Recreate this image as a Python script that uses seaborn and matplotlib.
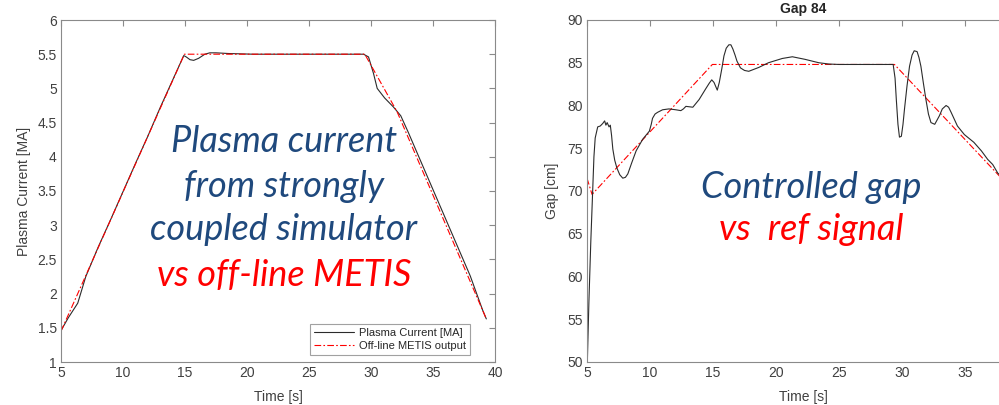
import seaborn as sns
import numpy as np
import matplotlib.pyplot as plt
from matplotlib.ticker import FormatStrFormatter, MultipleLocator

# --- left panel: plasma current [MA] vs time [s]
t_ip = [5.0, 5.6, 6.35, 7.0, 8.0, 9.0, 10.0, 11.0, 12.0, 13.0, 14.0, 14.9,
        15.1, 15.4, 15.7, 16.1, 16.6, 17.0, 17.5, 18.5, 19.5, 20.5, 25.0,
        29.4, 29.8, 30.2, 30.5, 31.1, 31.8, 32.4, 33.0, 34.0, 35.0, 36.0,
        37.0, 38.0, 39.0, 39.3]
ip = [1.46, 1.65, 1.86, 2.25, 2.68, 3.08, 3.49, 3.9, 4.3, 4.72, 5.12, 5.48,
      5.46, 5.42, 5.41, 5.44, 5.5, 5.52, 5.52, 5.51, 5.505, 5.5, 5.5,
      5.5, 5.46, 5.22, 5.0, 4.86, 4.73, 4.6, 4.36, 3.94, 3.52, 3.1,
      2.68, 2.26, 1.76, 1.63]
t_metis = [5.0, 14.95, 29.5, 32.1, 39.3]
ip_metis = [1.45, 5.5, 5.5, 4.66, 1.63]

# --- right panel: gap 84 [cm] vs time [s]
t_gap = [5.0, 5.03, 5.15, 5.3, 5.45, 5.55, 5.65, 5.85, 6.05, 6.25, 6.4, 6.5,
         6.6, 6.75, 6.85, 6.95, 7.05, 7.2, 7.37, 7.6, 7.84, 8.05, 8.24,
         8.55, 8.9, 9.42, 9.95, 10.1, 10.2, 10.4, 10.6, 11.0, 11.5, 12.05,
         12.45, 12.65, 12.85, 13.4, 13.9, 14.4, 14.7, 14.9, 15.08, 15.34,
         15.5, 15.7, 15.87, 16.05, 16.26, 16.42, 16.58, 16.75, 16.9, 17.18,
         17.5, 17.84, 18.63, 19.4, 20.5, 21.3, 22.3, 23.4, 24.2, 25.0,
         29.3, 29.45, 29.55, 29.68, 29.8, 29.95, 30.08, 30.2, 30.4, 30.6,
         30.8, 30.97, 31.2, 31.35, 31.5, 31.7, 31.9, 32.1, 32.3, 32.6,
         32.97, 33.2, 33.5, 33.7, 33.9, 34.4, 34.95, 35.7, 36.3, 36.8,
         37.2, 37.6, 38.4, 39.2, 40.0]
gap = [51.5, 50.2, 57.0, 64.0, 70.0, 74.0, 76.2, 77.5, 77.6, 77.9, 78.2, 77.7,
       78.0, 77.5, 77.7, 76.5, 74.9, 73.6, 72.7, 71.9, 71.5, 71.6, 72.0,
       73.3, 74.7, 76.05, 77.0, 77.8, 78.5, 79.0, 79.2, 79.5, 79.6, 79.5,
       79.4, 79.6, 79.9, 79.8, 80.7, 81.9, 82.6, 83.0, 82.7, 81.8,
       82.7, 84.3, 85.8, 86.7, 87.1, 87.1, 86.6, 85.9, 85.2, 84.4,
       84.1, 84.0, 84.45, 85.0, 85.5, 85.7, 85.4, 85.0, 84.85, 84.8,
       84.8, 83.2, 80.7, 77.8, 76.3, 76.4, 77.8, 79.6, 82.3, 84.6,
       85.9, 86.4, 86.3, 85.6, 84.6, 82.6, 80.7, 79.0, 78.0, 77.8,
       78.8, 79.6, 80.0, 79.8, 79.2, 77.6, 76.6, 75.7, 74.7, 73.7,
       73.1, 72.1, 71.0, 69.8, 68.6]
t_ref = [5.0, 5.4, 14.95, 29.4, 40.0]
gap_ref = [71.5, 69.6, 84.8, 84.8, 68.2]

sns.set_style("white")
plt.rcParams['font.family'] = ['Liberation Sans', 'DejaVu Sans']
plt.rcParams['axes.edgecolor'] = '#8a8a8a'
plt.rcParams['axes.linewidth'] = 0.8
plt.rcParams['xtick.color'] = '#8a8a8a'
plt.rcParams['ytick.color'] = '#8a8a8a'
plt.rcParams['xtick.labelcolor'] = '#404040'
plt.rcParams['ytick.labelcolor'] = '#404040'

W, H = 999, 405
fig = plt.figure(figsize=(W / 100, H / 100), dpi=100)
ax1 = fig.add_axes([61 / W, 1 - 362 / H, 434 / W, 342 / H])
# right panel is cropped at the image edge (t ~ 37.7 s)
ax2 = fig.add_axes([587 / W, 1 - 362 / H, 412 / W, 342 / H])

dashdot = (0, (6, 2, 1.5, 2))

sns.lineplot(x=t_ip, y=ip, ax=ax1, color='#2b2b2b', linewidth=0.8,
             estimator=None, sort=False, label='Plasma Current [MA]')
sns.lineplot(x=t_metis, y=ip_metis, ax=ax1, color='red', linewidth=0.8,
             linestyle=dashdot, estimator=None, sort=False,
             label='Off-line METIS output')
sns.lineplot(x=t_ref, y=gap_ref, ax=ax2, color='red', linewidth=0.8,
             linestyle=dashdot, estimator=None, sort=False)
sns.lineplot(x=t_gap, y=gap, ax=ax2, color='#2b2b2b', linewidth=0.8,
             estimator=None, sort=False)

for ax in (ax1, ax2):
    ax.xaxis.set_major_locator(MultipleLocator(5))
    ax.tick_params(direction='in', length=4, width=0.8, top=True, right=True,
                   labelsize=10, pad=3)
    ax.yaxis.set_major_formatter(FormatStrFormatter('%g'))
    ax.set_xlabel('Time [s]', fontsize=10, color='#404040')
    ax.xaxis.set_label_coords(0.5, -0.082)
    for s in ax.spines.values():
        s.set_visible(True)

ax1.set_xlim(5, 40)
ax1.set_ylim(1, 6)
ax1.yaxis.set_major_locator(MultipleLocator(0.5))
ax1.set_ylabel('Plasma Current [MA]', fontsize=10, color='#404040')
ax1.yaxis.set_label_coords(-(61 - 31) / 434, 0.5)

ax2.set_xlim(5, 37.7)
ax2.set_ylim(50, 90)
ax2.yaxis.set_major_locator(MultipleLocator(5))
ax2.spines['right'].set_visible(False)
ax2.tick_params(right=False)
ax2.set_ylabel('Gap [cm]', fontsize=10, color='#404040')
ax2.yaxis.set_label_coords(-(587 - 559) / 412, 0.5)
ax2.xaxis.set_label_coords((803 - 587) / 412, -0.082)
ax2.set_title('Gap 84', fontsize=10, fontweight='bold', pad=5,
              x=(803 - 587) / 412)

leg = ax1.legend(loc='lower right', bbox_to_anchor=((470 - 61) / 434, 7 / 342),
                 fontsize=8, frameon=True, fancybox=False, handlelength=3.6,
                 borderpad=0.35, labelspacing=0.25, handletextpad=0.5,
                 borderaxespad=0)
leg.get_frame().set_edgecolor('#8a8a8a')
leg.get_frame().set_linewidth(0.8)

blue = '#1F497D'
font_kw = dict(family=['Lato', 'DejaVu Sans'], style='italic', fontsize=26,
               ha='center', va='center')
fig.text(284 / W, 1 - 142 / H, 'Plasma current', color=blue, **font_kw)
fig.text(284 / W, 1 - 187 / H, 'from strongly', color=blue, **font_kw)
fig.text(284 / W, 1 - 230 / H, 'coupled simulator', color=blue, **font_kw)
fig.text(284 / W, 1 - 275 / H, 'vs off-line METIS', color='red', **font_kw)
fig.text(811 / W, 1 - 188 / H, 'Controlled gap', color=blue, **font_kw)
fig.text(811 / W, 1 - 230 / H, 'vs  ref signal', color='red', **font_kw)

plt.savefig('out.png', dpi=100)
